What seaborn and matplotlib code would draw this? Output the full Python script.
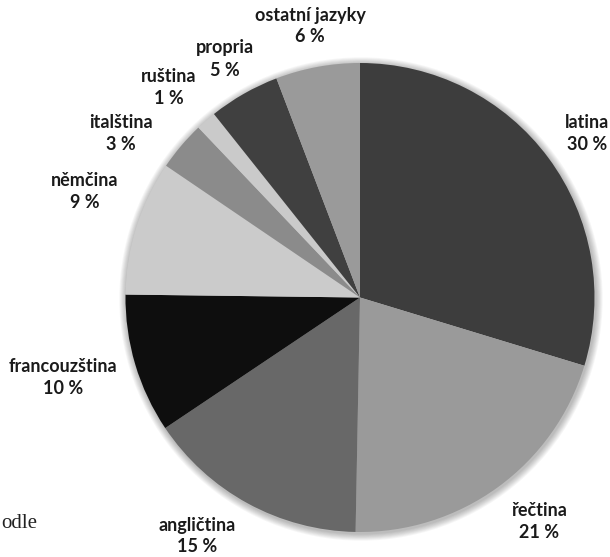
import matplotlib
matplotlib.use("Agg")
import matplotlib.pyplot as plt
import seaborn as sns
from matplotlib.patches import Circle

sns.set_theme(style="white")
plt.rcParams['font.family'] = ['Lato', 'DejaVu Sans']

# Data (percent shares)
languages = ["latina", "řečtina", "angličtina", "francouzština", "němčina",
             "italština", "ruština", "propria", "ostatní jazyky"]
shares = [29.7, 20.6, 15.3, 9.6, 9.3, 3.4, 1.4, 4.9, 5.8]
colors = ["#3d3d3d", "#9a9a9a", "#686868", "#0e0e0e", "#cbcbcb",
          "#8b8b8b", "#cacaca", "#404040", "#9a9a9a"]
pct_labels = [f"{round(v)} %" for v in shares]

# label positions in pixel coords (x, y from top)
label_pos = [(587, 123), (539, 510), (197, 525), (63, 366), (85, 180),
             (121, 123), (169, 77), (225, 48), (310, 15)]

W, H = 610, 557
fig = plt.figure(figsize=(W / 100, H / 100), dpi=100)
ax = fig.add_axes([0, 0, 1, 1])
ax.set_xlim(0, W)
ax.set_ylim(0, H)
ax.set_aspect("equal")
ax.axis("off")

cx, cy, R = 360, H - 297.5, 234.5

# soft shadow
for i in range(8, 0, -1):
    ax.add_patch(Circle((cx + 1, cy - 1.5), R + i * 0.9, color="black",
                        alpha=0.035, lw=0, zorder=0))

ax.pie(shares, colors=colors, startangle=90, counterclock=False,
       center=(cx, cy), radius=R, frame=True,
       wedgeprops=dict(linewidth=0))
ax.set_xlim(0, W)
ax.set_ylim(0, H)
ax.axis("off")

for name, pl, (x, y) in zip(languages, pct_labels, label_pos):
    ax.text(x, H - y, name, ha="center", va="center", fontsize=13,
            fontweight="bold", color="#1a1a1a")
    ax.text(x, H - y - 22, pl, ha="center", va="center", fontsize=13,
            fontweight="bold", color="#1a1a1a")

ax.text(1, H - 523, "odle", ha="left", va="center", fontsize=15,
        family="Liberation Serif", color="#222222")

fig.savefig("out.png", dpi=100)
